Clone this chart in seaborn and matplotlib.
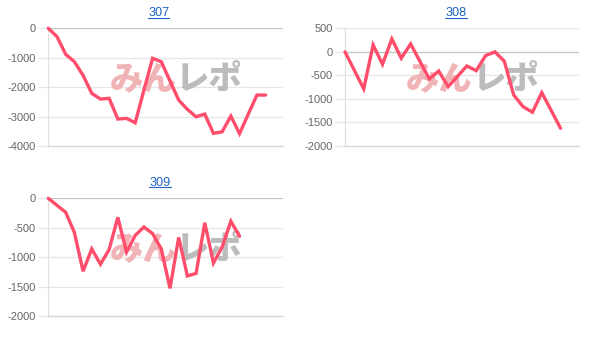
import numpy as np
import pandas as pd
import matplotlib
matplotlib.use("Agg")
import matplotlib.pyplot as plt
from matplotlib.lines import Line2D
import seaborn as sns

# ---- data ----
titles = ["307", "308", "309"]
s307 = [0, -285, -884, -1136, -1600, -2211, -2405, -2381, -3085, -3061, -3211, -2100,
        -1020, -1136, -1790, -2439, -2755, -3007, -2915, -3571, -3517, -2983, -3580,
        -2920, -2269, -2269]
s308 = [0, -394, -788, 147, -264, 274, -136, 168, -204, -576, -406, -740, -520, -300,
        -400, -80, 0, -200, -916, -1164, -1283, -867, -1245, -1623]
s309 = [0, -120, -238, -580, -1240, -860, -1120, -870, -323, -915, -630, -488, -600,
        -864, -1530, -665, -1320, -1276, -415, -1100, -828, -390, -645]
series = [s307, s308, s309]
yticks = [
    [0, -1000, -2000, -3000, -4000],
    [500, 0, -500, -1000, -1500, -2000],
    [0, -500, -1000, -1500, -2000],
]
ytick_labels = [
    ["0", "-1000", "-2000", "-3000", "-4000"],
    ["500", "0", "-500", "-1000", "-1500", "-2000"],
    ["0", "-500", "-1000", "-1500", "-2000"],
]
x_max = [27, 25, 27]
watermark = ("みん", "レポ")

# ---- style ----
sns.set_theme(style="white")
plt.rcParams["font.family"] = ["Liberation Sans", "DejaVu Sans"]
plt.rcParams["axes.unicode_minus"] = False

W, H = 608, 341
fig = plt.figure(figsize=(W / 100, H / 100), dpi=100)
fig.patch.set_facecolor("white")

# axes boxes in pixels: left, top, right, bottom
boxes = [(48.3, 28.3, 283.0, 146.0), (345.0, 28.3, 579.3, 146.0), (48.3, 198.3, 283.0, 316.0)]
title_pos = [(158.8, 16.0), (456.0, 16.0), (160.0, 186.0)]

line_color = "#ff4d6b"
grid_color = "#e6e6e6"
zero_color = "#c4c4c4"

for i, (vals, box) in enumerate(zip(series, boxes)):
    l, t, r, b = box
    ax = fig.add_axes([l / W, 1 - b / H, (r - l) / W, (b - t) / H])
    df = pd.DataFrame({"x": np.arange(len(vals)), "y": vals})
    sns.lineplot(data=df, x="x", y="y", ax=ax, color=line_color, linewidth=2.4,
                 zorder=5, clip_on=False)
    for ln in ax.lines:
        ln.set_solid_joinstyle("miter")
    ax.set_xlim(0, x_max[i])
    yt = yticks[i]
    ax.set_ylim(min(yt), max(yt))
    ax.set_yticks(yt)
    ax.set_yticklabels(ytick_labels[i])
    ax.set_xticks([])
    ax.set_xlabel("")
    ax.set_ylabel("")
    ax.set_facecolor("white")
    for v in yt:
        ax.axhline(v, color=zero_color if v == 0 else grid_color, lw=0.9, zorder=1)
    ax.tick_params(axis="y", length=7, width=0.9, color=grid_color, pad=2,
                   labelsize=8.0, labelcolor="#666666", left=True)
    for tk, v in zip(ax.yaxis.get_major_ticks(), yt):
        if v == 0:
            tk.tick1line.set_color(zero_color)
    for s in ["top", "right"]:
        ax.spines[s].set_visible(False)
    ax.spines["left"].set_color("#e0e0e0")
    ax.spines["left"].set_linewidth(0.9)
    ax.spines["bottom"].set_color("#d6d6d6")
    ax.spines["bottom"].set_linewidth(0.9)

    # watermark
    ax.text(0.545, 0.575, watermark[0], transform=ax.transAxes, ha="right", va="center",
            fontsize=24, fontweight="heavy", color="#f0b3b6",
            family=["Noto Sans CJK JP", "DejaVu Sans"], zorder=2)
    ax.text(0.545, 0.575, watermark[1], transform=ax.transAxes, ha="left", va="center",
            fontsize=24, fontweight="heavy", color="#bcbcbc",
            family=["Noto Sans CJK JP", "DejaVu Sans"], zorder=2)

    # title with underline
    tx, ty = title_pos[i]
    txt = fig.text(tx / W, 1 - ty / H, titles[i], ha="center", va="baseline",
                   fontsize=9.2, color="#1f63c2")
    fig.canvas.draw()
    bb = txt.get_window_extent()
    fig.add_artist(Line2D([bb.x0 / W, bb.x1 / W], [1 - (ty + 1.5) / H] * 2,
                          color="#1f63c2", lw=0.8, transform=fig.transFigure))

fig.savefig("out.png", dpi=100, facecolor="white")
